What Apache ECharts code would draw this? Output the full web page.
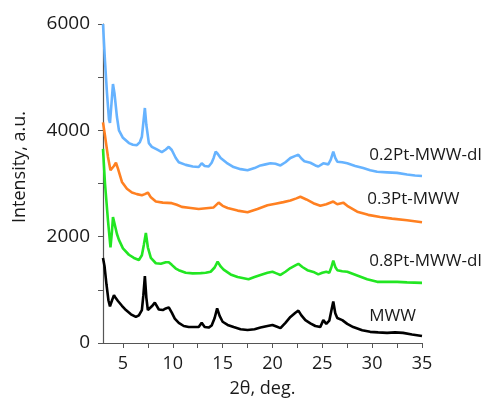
<!DOCTYPE html>
<html>
<head>
<meta charset="utf-8">
<script src="https://cdn.jsdelivr.net/npm/echarts@6/dist/echarts.min.js"></script>
<style>
  html, body { margin: 0; padding: 0; background: #fff; }
  #chart { width: 491px; height: 405px; }
</style>
</head>
<body>
<div id="chart"></div>
<script>
// tick values
const xMajor = [5, 10, 15, 20, 25, 30, 35];
const xMinor = [7.5, 12.5, 17.5, 22.5, 27.5, 32.5];
const yMajor = [0, 2000, 4000, 6000];
const yMinor = [1000, 3000, 5000];

// sample names, bottom to top
const names = ["MWW", "0.8Pt-MWW-dl", "0.3Pt-MWW", "0.2Pt-MWW-dl"];
const colors = ["#000000", "#22e622", "#ff8021", "#66b3ff"];

// [2theta, intensity]
const mww = [
  [3.0, 1600], [3.15, 1450], [3.35, 1100], [3.55, 800], [3.7, 690], [3.9, 800], [4.1, 900],
  [4.3, 840], [4.5, 790], [4.9, 700], [5.3, 620], [5.8, 540], [6.3, 490], [6.6, 520],
  [6.9, 620], [7.05, 900], [7.2, 1260], [7.35, 850], [7.5, 620], [7.9, 690], [8.2, 760],
  [8.6, 630], [9.0, 620], [9.3, 650], [9.6, 670], [9.9, 570], [10.2, 460], [10.6, 380],
  [11.1, 320], [11.6, 300], [12.6, 300], [12.9, 380], [13.2, 300], [13.6, 290], [13.9, 330],
  [14.2, 470], [14.45, 650], [14.7, 510], [15.0, 400], [15.5, 340], [16.1, 300], [16.8, 260],
  [17.5, 245], [18.2, 260], [18.8, 290], [19.5, 320], [20.0, 340], [20.4, 310], [20.8, 280],
  [21.3, 380], [21.8, 490], [22.3, 570], [22.6, 610], [22.9, 520], [23.3, 430], [23.8, 370],
  [24.3, 320], [24.8, 300], [25.1, 430], [25.4, 360], [25.7, 420], [25.9, 600], [26.1, 780],
  [26.3, 560], [26.5, 470], [27.0, 430], [27.5, 360], [28.1, 300], [29.0, 240], [29.8, 210],
  [30.6, 200], [31.5, 190], [32.3, 200], [33.1, 190], [34.0, 160], [35.0, 130]
];
const pt08 = [
  [3.0, 3650], [3.2, 3000], [3.5, 2300], [3.75, 1800], [3.9, 2100], [4.0, 2370], [4.15, 2250],
  [4.4, 2050], [4.6, 1940], [5.0, 1780], [5.6, 1660], [6.1, 1600], [6.6, 1560], [6.9, 1650],
  [7.1, 1850], [7.3, 2070], [7.5, 1800], [7.8, 1600], [8.3, 1500], [8.8, 1490], [9.3, 1520],
  [9.6, 1520], [9.9, 1470], [10.3, 1400], [10.6, 1370], [11.3, 1320], [12.0, 1310], [12.8, 1315],
  [13.3, 1320], [13.8, 1340], [14.2, 1420], [14.5, 1530], [14.8, 1440], [15.1, 1380], [15.8, 1290],
  [16.5, 1240], [17.6, 1200], [18.2, 1240], [18.8, 1280], [19.5, 1320], [20.0, 1340], [20.4, 1310],
  [20.8, 1280], [21.3, 1340], [21.8, 1410], [22.3, 1460], [22.6, 1490], [23.0, 1430], [23.5, 1370],
  [24.2, 1330], [24.6, 1290], [25.0, 1320], [25.4, 1340], [25.7, 1320], [25.9, 1420], [26.1, 1550],
  [26.3, 1430], [26.5, 1370], [27.0, 1350], [27.5, 1340], [28.5, 1270], [29.5, 1200], [30.5, 1150],
  [31.5, 1150], [32.5, 1150], [33.5, 1140], [35.0, 1130]
];
const pt03 = [
  [3.0, 4150], [3.2, 3900], [3.5, 3500], [3.75, 3250], [3.9, 3220], [4.1, 3330], [4.3, 3390],
  [4.5, 3280], [4.9, 3030], [5.4, 2900], [5.9, 2830], [6.4, 2800], [6.9, 2780], [7.2, 2800],
  [7.5, 2830], [7.8, 2740], [8.3, 2660], [9.0, 2640], [9.9, 2630], [10.4, 2600], [10.9, 2560],
  [11.8, 2540], [12.6, 2520], [13.6, 2540], [14.1, 2550], [14.6, 2640], [15.0, 2580], [15.5, 2540],
  [16.5, 2490], [17.5, 2460], [18.5, 2520], [19.5, 2590], [20.3, 2620], [21.1, 2650], [21.8, 2680],
  [22.4, 2720], [22.8, 2750], [23.4, 2700], [24.1, 2630], [24.8, 2580], [25.4, 2610], [26.1, 2660],
  [26.5, 2610], [27.1, 2640], [27.5, 2580], [28.5, 2470], [29.6, 2410], [30.8, 2370], [32.0, 2340],
  [33.5, 2310], [35.0, 2270]
];
const pt02 = [
  [3.0, 6000], [3.2, 5300], [3.4, 4700], [3.6, 4200], [3.7, 4140], [3.85, 4500], [4.0, 4870],
  [4.15, 4700], [4.4, 4250], [4.6, 4000], [5.0, 3860], [5.6, 3760], [6.0, 3730], [6.4, 3720],
  [6.7, 3780], [6.9, 3880], [7.05, 4150], [7.2, 4420], [7.35, 4100], [7.6, 3760], [7.9, 3690],
  [8.4, 3640], [8.9, 3590], [9.3, 3640], [9.6, 3690], [9.9, 3630], [10.3, 3480], [10.6, 3400],
  [11.3, 3350], [12.0, 3320], [12.6, 3310], [12.9, 3380], [13.2, 3330], [13.6, 3320], [13.9, 3390],
  [14.1, 3480], [14.3, 3600], [14.5, 3560], [14.8, 3480], [15.4, 3390], [16.1, 3310], [16.8, 3270],
  [17.5, 3250], [18.2, 3290], [18.8, 3340], [19.3, 3360], [19.8, 3380], [20.3, 3370], [20.8, 3340],
  [21.3, 3400], [21.8, 3480], [22.3, 3520], [22.6, 3540], [22.9, 3470], [23.2, 3420], [23.8, 3390],
  [24.3, 3340], [24.6, 3320], [25.1, 3380], [25.6, 3360], [25.85, 3450], [26.1, 3600], [26.3, 3480],
  [26.5, 3410], [27.0, 3400], [27.5, 3380], [28.3, 3330], [29.1, 3290], [29.8, 3250], [30.5, 3220],
  [31.5, 3210], [32.5, 3200], [33.5, 3170], [34.3, 3150], [35.0, 3140]
];
const seriesData = [mww, pt08, pt03, pt02];

// where each sample name sits, in data units (left edge, vertical centre)
const labelAnchors = [[29.7, 510], [29.7, 1530], [29.5, 2700], [29.7, 3530]];

const font = "'Open Sans', sans-serif";
const textColor = "#1a1a1a";
const axisColor = "#555";

let chart = echarts.init(document.getElementById("chart"));

let option = {
  animation: false,
  backgroundColor: "#fff",
  grid: { left: 103, right: 69, top: 24, bottom: 62 },
  xAxis: {
    type: "value",
    min: 3,
    max: 35,
    name: "2θ, deg.",
    nameLocation: "middle",
    nameGap: 37,
    nameTextStyle: { fontFamily: font, fontSize: 18, color: textColor },
    axisLine: { show: true, lineStyle: { color: axisColor, width: 1.2 } },
    axisTick: {
      show: true,
      length: 5,
      customValues: xMajor.concat(xMinor),
      lineStyle: { color: axisColor },
    },
    axisLabel: {
      customValues: xMajor,
      margin: 12,
      fontFamily: font,
      fontSize: 18,
      color: textColor,
    },
    splitLine: { show: false },
  },
  yAxis: {
    type: "value",
    min: 0,
    max: 6000,
    axisLine: { show: true, lineStyle: { color: axisColor, width: 1.2 } },
    axisTick: {
      show: true,
      length: 5,
      customValues: yMajor.concat(yMinor),
      lineStyle: { color: axisColor },
    },
    axisLabel: {
      customValues: yMajor,
      formatter: (v) => String(v),
      margin: 13,
      fontFamily: font,
      fontSize: 19,
      color: textColor,
    },
    splitLine: { show: false },
  },
  series: seriesData.map((d, i) => ({
    name: names[i],
    type: "line",
    data: d,
    showSymbol: false,
    lineStyle: { color: colors[i], width: 2.6 },
    z: 2 + i,
  })),
};

option && chart.setOption(option);

// sample names and the rotated y title
let graphics = names.map((n, i) => {
  let p = chart.convertToPixel({ gridIndex: 0 }, labelAnchors[i]);
  return {
    type: "text",
    x: p[0],
    y: p[1],
    style: {
      text: n,
      fontFamily: font,
      fontSize: 17,
      fill: textColor,
      textAlign: "left",
      textVerticalAlign: "middle",
    },
  };
});
graphics.push({
  type: "text",
  x: 20,
  y: 167,
  rotation: Math.PI / 2,
  style: {
    text: "Intensity, a.u.",
    fontFamily: font,
    fontSize: 18,
    fill: textColor,
    textAlign: "center",
    textVerticalAlign: "middle",
  },
});
chart.setOption({ graphic: graphics });
</script>
</body>
</html>
